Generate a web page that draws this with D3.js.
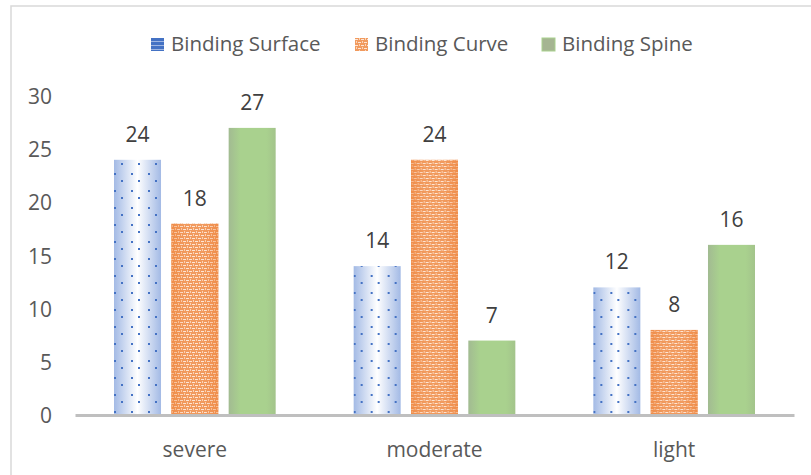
<!DOCTYPE html>
<html>
<head>
<meta charset="utf-8">
<script src="https://cdn.jsdelivr.net/npm/d3@7"></script>
<style>
  body { margin: 0; background: #fff; }
  svg { display: block; font-family: "Open Sans", "Noto Sans", sans-serif; }
</style>
</head>
<body>
<div id="chart"></div>
<script>
// chart data
var categories = ['severe', 'moderate', 'light'];
var seriesNames = ['Binding Surface', 'Binding Curve', 'Binding Spine'];
var surfaceValues = [24, 14, 12];
var curveValues = [18, 24, 8];
var spineValues = [27, 7, 16];
var yTicks = [0, 5, 10, 15, 20, 25, 30];

var width = 811, height = 475;
var margin = {top: 96, bottom: 60, left: 75, right: 17};

var svg = d3.select('#chart').append('svg')
    .attr('width', width)
    .attr('height', height);

var defs = svg.append('defs');

// blue: gradient + dots
var gBlue = defs.append('linearGradient').attr('id', 'gBlue')
    .attr('x1', '0').attr('x2', '1').attr('y1', '0').attr('y2', '0');
gBlue.append('stop').attr('offset', '0').attr('stop-color', '#a3bae5');
gBlue.append('stop').attr('offset', '0.5').attr('stop-color', '#ffffff');
gBlue.append('stop').attr('offset', '1').attr('stop-color', '#a3bae5');

var pDots = defs.append('pattern').attr('id', 'pDots')
    .attr('patternUnits', 'userSpaceOnUse')
    .attr('width', 17).attr('height', 17);
pDots.append('rect').attr('x', 5).attr('y', 3).attr('width', 2).attr('height', 2).attr('fill', '#4472c4');
pDots.append('rect').attr('x', 12).attr('y', 10).attr('width', 2).attr('height', 2).attr('fill', '#4472c4');

// orange: weave pattern + edge shading
var pWeave = defs.append('pattern').attr('id', 'pWeave')
    .attr('patternUnits', 'userSpaceOnUse')
    .attr('width', 6).attr('height', 6);
pWeave.append('rect').attr('width', 6).attr('height', 6).attr('fill', '#f19a5e');
pWeave.append('rect').attr('x', 0).attr('y', 1).attr('width', 3).attr('height', 1).attr('fill', '#fde6d6');
pWeave.append('rect').attr('x', 3).attr('y', 4).attr('width', 3).attr('height', 1).attr('fill', '#fde6d6');
pWeave.append('rect').attr('x', 1).attr('y', 3).attr('width', 1).attr('height', 2).attr('fill', '#fbd3b6');
pWeave.append('rect').attr('x', 4).attr('y', 0).attr('width', 1).attr('height', 2).attr('fill', '#fbd3b6');

var gOrange = defs.append('linearGradient').attr('id', 'gOrange')
    .attr('x1', '0').attr('x2', '1').attr('y1', '0').attr('y2', '0');
gOrange.append('stop').attr('offset', '0').attr('stop-color', '#ed7d31').attr('stop-opacity', 0.45);
gOrange.append('stop').attr('offset', '0.3').attr('stop-color', '#ed7d31').attr('stop-opacity', 0);
gOrange.append('stop').attr('offset', '0.7').attr('stop-color', '#ed7d31').attr('stop-opacity', 0);
gOrange.append('stop').attr('offset', '1').attr('stop-color', '#ed7d31').attr('stop-opacity', 0.45);

// green: soft gradient
var gGreen = defs.append('linearGradient').attr('id', 'gGreen')
    .attr('x1', '0').attr('x2', '1').attr('y1', '0').attr('y2', '0');
gGreen.append('stop').attr('offset', '0').attr('stop-color', '#a2bb92');
gGreen.append('stop').attr('offset', '0.25').attr('stop-color', '#a9d18e');
gGreen.append('stop').attr('offset', '0.8').attr('stop-color', '#a9d18e');
gGreen.append('stop').attr('offset', '1').attr('stop-color', '#a3c48b');

// legend swatch patterns
var pStripe = defs.append('pattern').attr('id', 'pStripe')
    .attr('patternUnits', 'userSpaceOnUse')
    .attr('width', 14).attr('height', 4);
pStripe.append('rect').attr('width', 14).attr('height', 4).attr('fill', '#4472c4');
pStripe.append('rect').attr('y', 3).attr('width', 14).attr('height', 1).attr('fill', '#9fb6e2');

// frame
svg.append('path')
    .attr('d', 'M11,' + height + 'V6H' + width)
    .attr('fill', 'none')
    .attr('stroke', '#d9d9d9')
    .attr('stroke-width', 1.5);

var x0 = d3.scaleBand()
    .domain(categories)
    .range([margin.left, width - margin.right]);

var x1 = d3.scaleBand()
    .domain(seriesNames)
    .range([39, x0.bandwidth() - 39])
    .paddingInner(0.18);

var y = d3.scaleLinear()
    .domain([0, 30])
    .range([height - margin.bottom, margin.top]);

var series = [
    {name: seriesNames[0], values: surfaceValues},
    {name: seriesNames[1], values: curveValues},
    {name: seriesNames[2], values: spineValues}
];

// y axis labels
var yAxis = d3.axisLeft(y).tickValues(yTicks).tickSize(0).tickPadding(0);
var yG = svg.append('g')
    .attr('transform', 'translate(52,0)')
    .call(yAxis);
yG.select('.domain').remove();
yG.selectAll('text')
    .attr('font-size', 21)
    .attr('fill', '#595959')
    .attr('font-family', '"Open Sans", sans-serif')
    .attr('dy', '0.36em');

// bars
var groups = svg.append('g').selectAll('g')
    .data(categories)
    .enter().append('g')
    .attr('transform', function(d) { return 'translate(' + x0(d) + ',0)'; });

function barRects(sel, fill) {
    sel.append('rect')
        .attr('x', function(d) { return x1(d.name); })
        .attr('y', function(d) { return y(d.value); })
        .attr('width', x1.bandwidth())
        .attr('height', function(d) { return y(0) - y(d.value); })
        .attr('fill', fill);
}

groups.each(function(cat, ci) {
    var g = d3.select(this);
    var rows = series.map(function(s) { return {name: s.name, value: s.values[ci]}; });

    barRects(g.selectAll('.b0').data(rows.slice(0, 1)).enter(), 'url(#gBlue)');
    barRects(g.selectAll('.b0d').data(rows.slice(0, 1)).enter(), 'url(#pDots)');
    barRects(g.selectAll('.b1').data(rows.slice(1, 2)).enter(), 'url(#pWeave)');
    barRects(g.selectAll('.b1g').data(rows.slice(1, 2)).enter(), 'url(#gOrange)');
    barRects(g.selectAll('.b2').data(rows.slice(2, 3)).enter(), 'url(#gGreen)');

    g.selectAll('.lbl')
        .data(rows)
        .enter().append('text')
        .attr('x', function(d) { return x1(d.name) + x1.bandwidth() / 2; })
        .attr('y', function(d) { return y(d.value) - 18; })
        .attr('text-anchor', 'middle')
        .attr('font-size', 21)
        .attr('fill', '#404040')
        .text(function(d) { return d.value; });
});

// x axis
var xAxis = d3.axisBottom(x0).tickSize(0);
var xG = svg.append('g')
    .attr('transform', 'translate(0,' + y(0) + ')')
    .call(xAxis);
xG.select('.domain')
    .attr('stroke', '#bfbfbf')
    .attr('stroke-width', 3);
xG.selectAll('text')
    .attr('font-size', 21)
    .attr('fill', '#595959')
    .attr('font-family', '"Open Sans", sans-serif')
    .attr('y', 42)
    .attr('dy', 0);

// legend
var legendItems = [
    {name: seriesNames[0], x: 151, fill: 'url(#pStripe)', stroke: 'none'},
    {name: seriesNames[1], x: 355, fill: 'url(#pWeave)', stroke: 'none'},
    {name: seriesNames[2], x: 542, fill: '#a5b592', stroke: '#a9d18e'}
];
var legend = svg.append('g').selectAll('g')
    .data(legendItems)
    .enter().append('g')
    .attr('transform', function(d) { return 'translate(' + d.x + ',38)'; });
legend.append('rect')
    .attr('width', 13).attr('height', 13)
    .attr('fill', function(d) { return d.fill; })
    .attr('stroke', function(d) { return d.stroke; });
legend.append('text')
    .attr('x', 20)
    .attr('y', 13)
    .attr('font-size', 20.5)
    .attr('fill', '#595959')
    .text(function(d) { return d.name; });
</script>
</body>
</html>
